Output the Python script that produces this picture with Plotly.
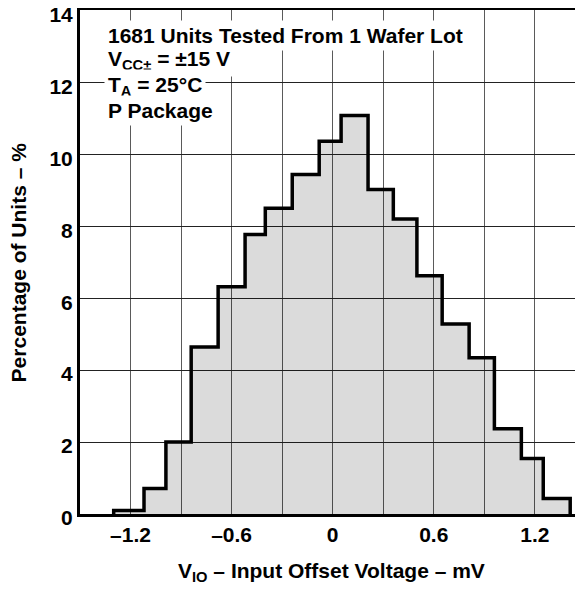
import plotly.graph_objects as go

# Bin edges (mV) and percentage of units per bin
bin_edges = [-1.30, -1.12, -0.99, -0.84, -0.68, -0.52, -0.40, -0.24, -0.08,
             0.05, 0.21, 0.36, 0.50, 0.65, 0.81, 0.96, 1.12, 1.25, 1.41]
percent = [0.10, 0.71, 2.00, 4.64, 6.32, 7.77, 8.50, 9.44, 10.36,
           11.08, 9.02, 8.20, 6.62, 5.28, 4.34, 2.37, 1.54, 0.43]

x_grid = [-1.2, -0.9, -0.6, -0.3, 0, 0.3, 0.6, 0.9, 1.2, 1.5]
x_ticktext = ["\u20131.2", "", "\u20130.6", "", "0", "", "0.6", "", "1.2", ""]
y_ticks = [0, 2, 4, 6, 8, 10, 12, 14]

note_lines = [
    "1681 Units Tested From 1 Wafer Lot",
    "V<sub>CC\u00b1</sub> = \u00b115 V",
    "T<sub>A</sub> = 25\u00b0C",
    "P Package",
]
x_title = "V<sub>IO</sub> \u2013 Input Offset Voltage \u2013 mV"
y_title = "Percentage of Units \u2013 %"

FONT = "Liberation Sans, Arial, Helvetica, sans-serif"
SIZE = 21


def bold(size=SIZE):
    return dict(family=FONT, size=size, color="black", weight="bold")


# step outline
xs = [bin_edges[0]] + bin_edges + [bin_edges[-1]]
ys = [0] + percent + [percent[-1], 0]

fig = go.Figure()
fig.add_trace(go.Scatter(
    x=xs, y=ys, mode="lines", line=dict(shape="hv", color="black", width=3.5),
    fill="tozeroy", fillcolor="rgba(0,0,0,0.14)", hoverinfo="skip", showlegend=False,
))

ann = []
ys_paper = [0.950, 0.901, 0.850, 0.800]
for t, yp in zip(note_lines, ys_paper):
    ann.append(dict(text=t, xref="paper", yref="paper", x=0.047, y=yp,
                    xanchor="left", yanchor="middle", showarrow=False,
                    bgcolor="white", borderpad=3, font=bold()))
ann.append(dict(text=x_title, xref="paper", yref="paper", x=0.5, y=-0.116,
                xanchor="center", yanchor="middle", showarrow=False, font=bold()))
ann.append(dict(text=y_title, xref="paper", yref="paper", x=-0.1225, y=0.5,
                xanchor="center", yanchor="middle", showarrow=False, textangle=-90,
                font=bold()))

# the page body has an 8 px margin, so the figure is sized/offset to compensate
fig.update_layout(
    width=575, height=581,
    margin=dict(l=72, r=0, t=2, b=74.5, autoexpand=False),
    paper_bgcolor="white", plot_bgcolor="white",
    font=bold(),
    annotations=ann,
    xaxis=dict(
        range=[-1.5, 1.486], tickvals=x_grid, ticktext=x_ticktext,
        showgrid=True, gridcolor="#5a5a5a", gridwidth=1,
        showline=True, linecolor="black", linewidth=3, mirror=True,
        ticks="", zeroline=False, automargin=False,
        ticklabeloverflow="allow", tickfont=bold(),
    ),
    yaxis=dict(
        range=[0, 14.01], tickvals=y_ticks,
        showgrid=True, gridcolor="#222222", gridwidth=1,
        showline=True, linecolor="black", linewidth=3, mirror=False,
        ticks="", zeroline=False, automargin=False,
        ticklabeloverflow="allow", ticklabelshift=4, tickfont=bold(),
    ),
)

fig.write_html("out.html")
